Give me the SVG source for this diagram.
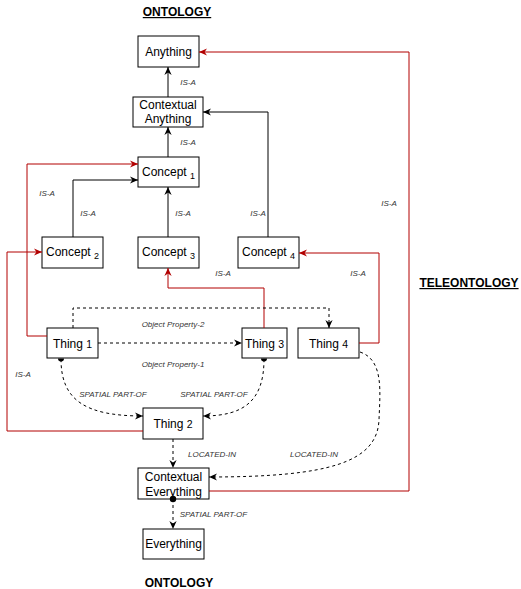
<svg xmlns="http://www.w3.org/2000/svg" width="521" height="589" viewBox="0 0 521 589">
<style>
.node rect{fill:#fff;stroke:#000;stroke-width:1}
.nt{font-family:"Liberation Sans",Arial,sans-serif;font-size:12px;fill:#000;text-anchor:middle}
.lbl{font-family:"Liberation Sans",Arial,sans-serif;font-size:8px;font-style:italic;fill:#333;text-anchor:middle}
.title{font-family:"Liberation Sans",Arial,sans-serif;font-size:12px;font-weight:bold;fill:#000;text-anchor:middle;text-decoration:underline}
.e{fill:none;stroke:#000;stroke-width:1}
.r{fill:none;stroke:#B20000;stroke-width:1}
.d{fill:none;stroke:#000;stroke-width:1;stroke-dasharray:3,3}
</style>
<defs>
<marker id="ab" viewBox="0 0 10 10" refX="10" refY="5" markerWidth="8" markerHeight="8" markerUnits="userSpaceOnUse" orient="auto">
<path d="M0,0.5 L10,5 L0,9.5 L3,5 Z" fill="#000" stroke="none"/>
</marker>
<marker id="ar" viewBox="0 0 10 10" refX="10" refY="5" markerWidth="8" markerHeight="8" markerUnits="userSpaceOnUse" orient="auto">
<path d="M0,0.5 L10,5 L0,9.5 L3,5 Z" fill="#B20000" stroke="none"/>
</marker>
</defs>
<rect width="521" height="589" fill="#fff"/>
<text class="title" x="177" y="16">ONTOLOGY</text>
<text class="title" x="469" y="287">TELEONTOLOGY</text>
<text class="title" x="179" y="587" style="text-decoration:none">ONTOLOGY</text>

<g id="anything" class="node"><rect x="138" y="36" width="61" height="31"/><text class="nt" x="168.5" y="55.5">Anything</text></g>
<g id="contextual-anything" class="node"><rect x="133" y="97" width="70" height="30"/><text class="nt" x="168" y="108.5">Contextual</text><text class="nt" x="168" y="123">Anything</text></g>
<g id="concept1" class="node"><rect x="138" y="157" width="61" height="30"/><text class="nt" x="168.5" y="175.5">Concept <tspan font-size="9" dy="3">1</tspan></text></g>
<g id="concept2" class="node"><rect x="42" y="237" width="61" height="31"/><text class="nt" x="72.5" y="256">Concept <tspan font-size="9" dy="3">2</tspan></text></g>
<g id="concept3" class="node"><rect x="138" y="237" width="61" height="31"/><text class="nt" x="168.5" y="256">Concept <tspan font-size="9" dy="3">3</tspan></text></g>
<g id="concept4" class="node"><rect x="238" y="237" width="61" height="31"/><text class="nt" x="268.5" y="256">Concept <tspan font-size="9" dy="3">4</tspan></text></g>
<g id="thing1" class="node"><rect x="47" y="328" width="51" height="30"/><text class="nt" x="72.5" y="347.5">Thing <tspan font-size="10.5">1</tspan></text></g>
<g id="thing2" class="node"><rect x="143" y="408" width="60" height="31"/><text class="nt" x="173" y="427.5">Thing <tspan font-size="10.5">2</tspan></text></g>
<g id="thing3" class="node"><rect x="242" y="328" width="45" height="30"/><text class="nt" x="264.5" y="347.5">Thing <tspan font-size="10.5">3</tspan></text></g>
<g id="thing4" class="node"><rect x="298" y="328" width="61" height="30"/><text class="nt" x="328.5" y="347.5">Thing <tspan font-size="10.5">4</tspan></text></g>
<g id="contextual-everything" class="node"><rect x="138" y="468" width="71" height="31"/><text class="nt" x="173.5" y="481">Contextual</text><text class="nt" x="173.5" y="495.5">Everything</text></g>
<g id="everything" class="node"><rect x="143" y="529" width="61" height="30"/><text class="nt" x="173.5" y="548">Everything</text></g>

<g id="connectors">
<path class="e" d="M168,97 V67" marker-end="url(#ab)"/>
<path class="e" d="M168,157 V127" marker-end="url(#ab)"/>
<path class="e" d="M268,237 V112 H203" marker-end="url(#ab)"/>
<path class="e" d="M73,237 V180 H138" marker-end="url(#ab)"/>
<path class="e" d="M168,237 V187" marker-end="url(#ab)"/>
<path class="r" d="M47,336 H27 V164 H138" marker-end="url(#ar)"/>
<path class="r" d="M143,431 H7 V252 H42" marker-end="url(#ar)"/>
<path class="r" d="M264,328 V288 H168 V268" marker-end="url(#ar)"/>
<path class="r" d="M359,343 H379 V253 H299" marker-end="url(#ar)"/>
<path class="r" d="M209,491 H409 V52 H199" marker-end="url(#ar)"/>
<path class="d" d="M98,343 H242" marker-end="url(#ab)"/>
<path class="d" d="M73,328 V308 H329 V328" marker-end="url(#ab)"/>
<path class="d" d="M61,359 C61,400 85,416 143,416" marker-end="url(#ab)"/>
<path class="d" d="M264,359 C264,400 245,416 203,416" marker-end="url(#ab)"/>
<path class="d" d="M173,439 V468" marker-end="url(#ab)"/>
<path class="d" d="M360,352 C384,360 380,392 379,420 C377,462 330,477 209,477" marker-end="url(#ab)"/>
<path class="d" d="M173,499 V529" marker-end="url(#ab)"/>
<path d="M58,358.5 A3,3 0 0 0 64,358.5 Z" fill="#000"/>
<path d="M261,358.5 A3,3 0 0 0 267,358.5 Z" fill="#000"/>
<circle cx="173" cy="499" r="3.2" fill="#000"/>
<text class="lbl" x="188" y="85">IS-A</text>
<text class="lbl" x="188" y="145">IS-A</text>
<text class="lbl" x="47" y="196">IS-A</text>
<text class="lbl" x="88" y="216">IS-A</text>
<text class="lbl" x="183" y="216">IS-A</text>
<text class="lbl" x="258" y="216">IS-A</text>
<text class="lbl" x="389" y="206">IS-A</text>
<text class="lbl" x="223" y="276">IS-A</text>
<text class="lbl" x="358" y="276">IS-A</text>
<text class="lbl" x="23" y="377">IS-A</text>
<text class="lbl" x="173" y="327">Object Property-2</text>
<text class="lbl" x="173" y="367">Object Property-1</text>
<text class="lbl" x="113" y="397">SPATIAL PART-OF</text>
<text class="lbl" x="214" y="397">SPATIAL PART-OF</text>
<text class="lbl" x="212" y="457">LOCATED-IN</text>
<text class="lbl" x="314" y="457">LOCATED-IN</text>
<text class="lbl" x="213.5" y="517">SPATIAL PART-OF</text>
</g>
</svg>
